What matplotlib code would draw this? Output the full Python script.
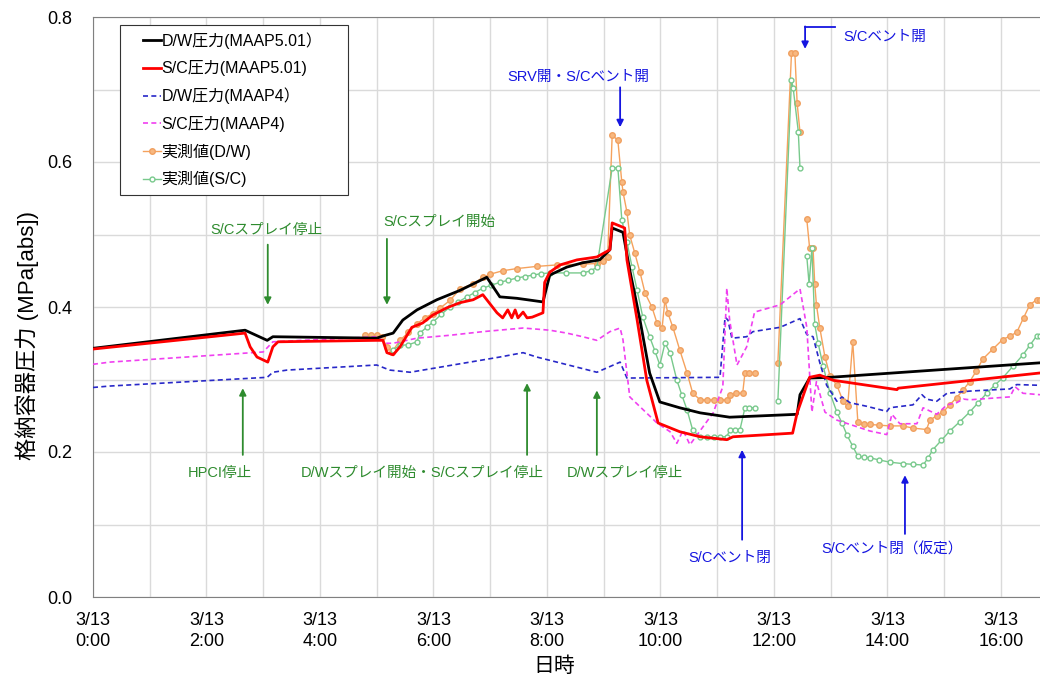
import matplotlib
matplotlib.use('Agg')
import matplotlib.pyplot as plt
from matplotlib.patches import Rectangle

plt.rcParams['font.family'] = ['Liberation Sans', 'Noto Sans CJK JP', 'DejaVu Sans']

# time in hours from 3/13 0:00, pressure in MPa[abs]
dw5_t = [0, 2.68, 3.07, 3.17, 5.0, 5.11, 5.29, 5.46, 5.71, 6.06, 6.47, 6.94, 7.17, 7.47, 7.93,
         8.05, 8.35, 8.63, 8.93, 9.11, 9.15, 9.34, 9.46, 9.64, 9.81, 9.99, 10.34, 10.70, 11.22,
         12.41, 12.46, 12.63, 12.99, 16.69]
dw5_v = [0.343, 0.368, 0.354, 0.359, 0.357, 0.360, 0.364, 0.382, 0.396, 0.410, 0.423, 0.441, 0.414,
         0.412, 0.407, 0.444, 0.455, 0.461, 0.465, 0.479, 0.509, 0.503, 0.451, 0.382, 0.309, 0.269,
         0.261, 0.254, 0.248, 0.252, 0.279, 0.302, 0.303, 0.323]

sc5_t = [0, 2.68, 2.77, 2.89, 3.08, 3.17, 3.26, 5.0, 5.11, 5.18, 5.29, 5.41, 5.62, 5.81, 5.99,
         6.24, 6.47, 6.70, 6.87, 6.94, 7.12, 7.22, 7.31, 7.38, 7.44, 7.49, 7.58, 7.65, 7.74, 7.93,
         7.96, 8.05, 8.23, 8.53, 8.88, 9.11, 9.15, 9.37, 9.41, 9.59, 9.76, 9.96, 10.34, 10.70,
         11.17, 11.28, 12.33, 12.41, 12.63, 12.81, 13.04, 14.17, 14.19, 16.69]
sc5_v = [0.342, 0.364, 0.345, 0.331, 0.324, 0.345, 0.352, 0.354, 0.354, 0.337, 0.334, 0.345, 0.372,
         0.378, 0.389, 0.399, 0.406, 0.410, 0.417, 0.410, 0.392, 0.385, 0.396, 0.385, 0.396, 0.385,
         0.393, 0.385, 0.386, 0.392, 0.434, 0.448, 0.458, 0.465, 0.469, 0.479, 0.516, 0.509, 0.465,
         0.382, 0.299, 0.240, 0.228, 0.221, 0.217, 0.221, 0.226, 0.254, 0.303, 0.306, 0.299, 0.286,
         0.288, 0.309]

dw4_t = [0, 0.3, 3.07, 3.17, 3.42, 5.0, 5.23, 5.59, 7.17, 7.58, 7.82, 8.58, 8.88, 9.29, 9.41,
         11.05, 11.14, 11.19, 11.26, 11.52, 11.63, 12.11, 12.46, 12.58, 12.69, 12.81, 12.93, 13.11,
         13.2, 13.34, 13.64, 13.99, 14.04, 14.45, 14.61, 14.69, 14.87, 15.05, 15.45, 16.16, 16.28, 16.69]
dw4_v = [0.289, 0.291, 0.303, 0.310, 0.313, 0.320, 0.313, 0.310, 0.331, 0.337, 0.331, 0.316, 0.310,
         0.324, 0.302, 0.303, 0.386, 0.382, 0.357, 0.359, 0.366, 0.372, 0.384, 0.362, 0.359, 0.323,
         0.292, 0.270, 0.276, 0.268, 0.263, 0.256, 0.261, 0.265, 0.279, 0.273, 0.270, 0.281, 0.284,
         0.287, 0.293, 0.292]

sc4_t = [0, 0.3, 3.0, 3.17, 5.0, 5.18, 5.29, 5.71, 6.29, 6.87, 7.58, 8.05, 8.35, 8.63, 8.88, 9.11,
         9.29, 9.34, 9.46, 9.94, 10.17, 10.29, 10.4, 10.52, 10.93, 11.1, 11.17, 11.22, 11.35, 11.52,
         11.66, 12.11, 12.46, 12.58, 12.67, 12.75, 12.9, 13.11, 13.69, 13.99, 14.08, 14.22, 14.52,
         14.63, 14.87, 15.05, 15.22, 15.34, 15.45, 16.16, 16.25, 16.39, 16.69]
sc4_v = [0.321, 0.324, 0.338, 0.352, 0.359, 0.350, 0.350, 0.357, 0.361, 0.366, 0.371, 0.368, 0.364,
         0.359, 0.354, 0.366, 0.371, 0.355, 0.276, 0.240, 0.228, 0.212, 0.230, 0.210, 0.254, 0.290,
         0.426, 0.382, 0.320, 0.345, 0.393, 0.403, 0.425, 0.372, 0.255, 0.297, 0.255, 0.244, 0.229,
         0.224, 0.252, 0.239, 0.239, 0.261, 0.252, 0.265, 0.268, 0.273, 0.272, 0.276, 0.290, 0.281,
         0.279]

# measured values (gaps as None)
dwm_t = [4.79, 4.9, 5.0, 5.09, 5.18, 5.27, 5.41, 5.56, 5.71, 5.85, 5.99, 6.11, 6.29, 6.47, 6.70,
         6.87, 6.99, 7.22, 7.47, 7.82, 8.17, 8.63, 8.88, 8.99, 9.07,
         9.15, 9.25, 9.32, 9.34, 9.41, 9.46, 9.55, 9.64, 9.73, 9.85, 9.94, 10.03, 10.08, 10.13,
         10.22, 10.34, 10.47, 10.57, 10.70, 10.82, 10.94, 11.05, 11.17, 11.22, 11.33, 11.45, 11.49,
         11.57, 11.66, None,
         12.07, 12.31, 12.37, 12.41, 12.46, None,
         12.58, 12.63, 12.69, 12.72, 12.75, 12.81, 12.90, 12.99, 13.11, 13.22, 13.30, 13.39, 13.48,
         13.58, 13.69, 13.86, 14.04, 14.27, 14.45, 14.69, 14.75, 14.87, 14.98, 15.10, 15.22, 15.34,
         15.45, 15.57, 15.68, 15.86, 16.03, 16.16, 16.28, 16.40, 16.51, 16.63, 16.69]
dwm_v = [0.361, 0.361, 0.361, 0.358, 0.345, 0.338, 0.354, 0.365, 0.377, 0.385, 0.391, 0.398, 0.409,
         0.425, 0.432, 0.441, 0.445, 0.450, 0.453, 0.456, 0.458, 0.459, 0.460, 0.463, 0.469,
         0.637, 0.630, 0.572, 0.559, 0.531, 0.499, 0.474, 0.448, 0.419, 0.400, 0.378, 0.371, 0.410,
         0.392, 0.372, 0.341, 0.309, 0.281, 0.272, 0.272, 0.272, 0.272, 0.272, 0.279, 0.281, 0.281,
         0.309, 0.309, 0.309, None,
         0.323, 0.750, 0.750, 0.681, 0.641, None,
         0.521, 0.481, 0.481, 0.432, 0.403, 0.371, 0.331, 0.305, 0.292, 0.270, 0.263, 0.352, 0.241,
         0.238, 0.238, 0.237, 0.236, 0.236, 0.233, 0.231, 0.244, 0.250, 0.255, 0.265, 0.275, 0.286,
         0.297, 0.312, 0.328, 0.342, 0.355, 0.360, 0.365, 0.385, 0.403, 0.410, 0.410]

scm_t = [5.29, 5.41, 5.56, 5.71, 5.76, 5.88, 5.99, 6.14, 6.29, 6.44, 6.59, 6.73, 6.87, 7.02, 7.17,
         7.32, 7.47, 7.61, 7.75, 7.90, 8.05, 8.34, 8.63, 8.78, 8.88,
         9.15, 9.25, 9.32, 9.41, 9.50, 9.59, 9.69, 9.81, 9.90, 9.99, 10.08, 10.17, 10.29, 10.38,
         10.47, 10.57, 10.70, 10.82, 10.94, 11.05, 11.17, 11.22, 11.31, 11.40, 11.49, 11.57, 11.66,
         None,
         12.07, 12.31, 12.34, 12.43, 12.46, None,
         12.58, 12.62, 12.67, 12.72, 12.78, 12.87, 12.99, 13.11, 13.20, 13.29, 13.39, 13.48, 13.58,
         13.69, 13.86, 14.04, 14.27, 14.45, 14.63, 14.72, 14.80, 14.95, 15.10, 15.28, 15.45, 15.60,
         15.75, 15.89, 16.03, 16.21, 16.39, 16.51, 16.63, 16.69]
scm_v = [0.341, 0.347, 0.348, 0.352, 0.364, 0.372, 0.379, 0.390, 0.400, 0.407, 0.414, 0.420, 0.426,
         0.430, 0.434, 0.437, 0.440, 0.442, 0.444, 0.446, 0.447, 0.447, 0.447, 0.450, 0.455,
         0.592, 0.592, 0.520, 0.490, 0.455, 0.423, 0.386, 0.359, 0.340, 0.320, 0.350, 0.337, 0.299,
         0.278, 0.258, 0.230, 0.221, 0.221, 0.221, 0.221, 0.221, 0.230, 0.230, 0.230, 0.261, 0.261,
         0.261, None,
         0.270, 0.713, 0.702, 0.642, 0.592, None,
         0.470, 0.432, 0.481, 0.376, 0.350, 0.318, 0.281, 0.255, 0.240, 0.223, 0.208, 0.194, 0.193,
         0.192, 0.189, 0.186, 0.184, 0.183, 0.182, 0.192, 0.203, 0.216, 0.229, 0.242, 0.255, 0.268,
         0.281, 0.292, 0.302, 0.318, 0.334, 0.347, 0.360, 0.360]

labels = ['D/W圧力(MAAP5.01）', 'S/C圧力(MAAP5.01)', 'D/W圧力(MAAP4）', 'S/C圧力(MAAP4)',
          '実測値(D/W)', '実測値(S/C)']
xticks = [0, 2, 4, 6, 8, 10, 12, 14, 16]
xticklabels = ['3/13\n%d:00' % h for h in xticks]
yticks = [0.0, 0.2, 0.4, 0.6, 0.8]

green = '#2E8B2E'
blue = '#1515E0'

fig = plt.figure(figsize=(10.4, 6.87), dpi=100)
ax = fig.add_axes([93 / 1040, 1 - 597 / 687, 947 / 1040, 580 / 687])

ax.plot(dwm_t, dwm_v, color='#F5A25D', lw=1.0, marker='o', ms=4, mec='#F0A060', mfc='#F8B880',
        label=labels[4], zorder=3)
ax.plot(scm_t, scm_v, color='#78C98C', lw=1.0, marker='o', ms=3.5, mec='#78C98C', mfc='white',
        label=labels[5], zorder=3)
ax.plot(dw4_t, dw4_v, color='#2828C8', lw=1.2, ls=(0, (3, 2)), label=labels[2], zorder=4)
ax.plot(sc4_t, sc4_v, color='#F040F0', lw=1.2, ls=(0, (3, 2)), label=labels[3], zorder=4)
ax.plot(dw5_t, dw5_v, color='black', lw=2.0, label=labels[0], zorder=5)
ax.plot(sc5_t, sc5_v, color='#FF0000', lw=2.0, label=labels[1], zorder=6)

ax.set_xlim(0, 16.69)
ax.set_ylim(0, 0.8)
ax.set_xticks(xticks)
ax.set_xticklabels(xticklabels, fontsize=13, linespacing=1.25)
ax.set_xticks(range(0, 17), minor=True)
ax.set_yticks(yticks)
ax.set_yticklabels(['%.1f' % v for v in yticks], fontsize=13)
ax.set_yticks([0.1, 0.3, 0.5, 0.7], minor=True)
ax.grid(True, which='both', color='#DADADA', lw=1.0)
ax.set_axisbelow(True)
ax.tick_params(which='both', direction='in', length=0)
ax.tick_params(axis='y', pad=15)
ax.tick_params(axis='x', pad=11)
for s in ['left', 'bottom', 'top']:
    ax.spines[s].set_color('#808080')
ax.spines['right'].set_visible(False)

ax.set_xlabel('日時', fontsize=15)
ax.xaxis.set_label_coords(0.487, -0.102)
ax.set_ylabel('格納容器圧力 (MPa[abs])', fontsize=16)
ax.yaxis.set_label_coords(-0.057, 0.45)

handles, labs = ax.get_legend_handles_labels()
order = [4, 5, 2, 3, 0, 1]
leg = ax.legend([handles[i] for i in order], [labs[i] for i in order], loc='upper left',
                bbox_to_anchor=(0.0528, 0.974), borderaxespad=0, borderpad=0, fontsize=11.5,
                handlelength=1.1, handletextpad=0.05, labelspacing=0.72, frameon=False)
leg.set_zorder(10)
ax.add_patch(Rectangle((0.0285, 0.693), 0.2408, 0.293, transform=ax.transAxes, facecolor='white',
                       edgecolor='#333333', lw=0.8, zorder=9))


def note(text, tx, ty, x0, y0, x1, y1, color):
    ax.text(tx, ty, text, color=color, fontsize=10.5, ha='center', va='center', zorder=8)
    ax.annotate('', xy=(x1, y1), xytext=(x0, y0),
                arrowprops=dict(arrowstyle='-|>', color=color, lw=1.3, mutation_scale=10,
                                shrinkA=0, shrinkB=0), zorder=8)


note('S/Cスプレイ停止', 3.05, 0.506, 3.08, 0.486, 3.08, 0.403, green)
note('S/Cスプレイ開始', 6.11, 0.517, 5.18, 0.494, 5.18, 0.403, green)
note('HPCI停止', 2.24, 0.171, 2.64, 0.196, 2.64, 0.288, green)
note('D/Wスプレイ開始・S/Cスプレイ停止', 5.81, 0.171, 7.65, 0.196, 7.65, 0.295, green)
note('D/Wスプレイ停止', 9.37, 0.171, 8.88, 0.196, 8.88, 0.285, green)
note('SRV開・S/Cベント開', 8.56, 0.717, 9.29, 0.703, 9.29, 0.648, blue)
note('S/Cベント閉', 11.22, 0.054, 11.44, 0.079, 11.44, 0.203, blue)
note('S/Cベント閉（仮定）', 14.08, 0.065, 14.31, 0.087, 14.31, 0.168, blue)

# bent arrow for the second vent opening
ax.text(13.22, 0.772, 'S/Cベント開', color=blue, fontsize=10.5, ha='left', va='center', zorder=8)
ax.plot([13.07, 12.55], [0.786, 0.786], color=blue, lw=1.3, zorder=8)
ax.annotate('', xy=(12.55, 0.756), xytext=(12.55, 0.787),
            arrowprops=dict(arrowstyle='-|>', color=blue, lw=1.3, mutation_scale=10,
                            shrinkA=0, shrinkB=0), zorder=8)

fig.savefig('out.png', dpi=100)
